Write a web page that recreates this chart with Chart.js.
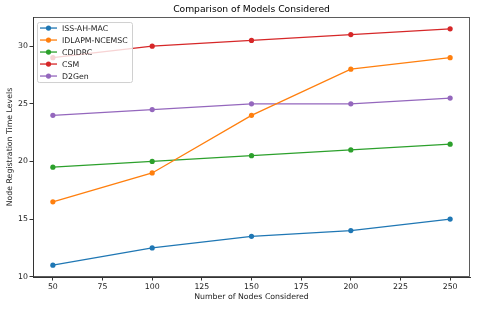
<!DOCTYPE html>
<html>
<head>
<meta charset="utf-8">
<script src="https://cdn.jsdelivr.net/npm/chart.js@4.4.0/dist/chart.umd.min.js"></script>
<style>
  html, body { margin: 0; padding: 0; background: #fff; }
  #wrap { width: 480px; height: 313px; }
</style>
</head>
<body>
<div id="wrap"><canvas id="myChart" width="480" height="313"></canvas></div>
<script>
// data
const nodes = [50, 100, 150, 200, 250];
const issAhMac = [11, 12.5, 13.5, 14, 15];
const idlapmNcemsc = [16.5, 19, 24, 28, 29];
const cdidrc = [19.5, 20, 20.5, 21, 21.5];
const csm = [29, 30, 30.5, 31, 31.5];
const d2gen = [24, 24.5, 25, 25, 25.5];

const seriesNames = ["ISS-AH-MAC", "IDLAPM-NCEMSC", "CDIDRC", "CSM", "D2Gen"];
const seriesValues = [issAhMac, idlapmNcemsc, cdidrc, csm, d2gen];
const colors = ["#1f77b4", "#ff7f0e", "#2ca02c", "#d62728", "#9467bd"];

const xTicks = [50, 75, 100, 125, 150, 175, 200, 225, 250];
const yTicks = [10, 15, 20, 25, 30];

const FONT = "'DejaVu Sans', sans-serif";
const SMALL = 7.8;

const datasets = seriesNames.map((name, i) => ({
    label: name,
    data: nodes.map((n, j) => ({x: n, y: seriesValues[i][j]})),
    borderColor: colors[i],
    backgroundColor: colors[i],
    borderWidth: 1.3,
    pointRadius: 2.6,
    pointHoverRadius: 2.6,
    pointBorderWidth: 0,
    tension: 0
}));

// frame + legend box inside the plot, like matplotlib
const framePlugin = {
    id: "frameLegend",
    afterDatasetsDraw(chart) {
        const ctx = chart.ctx;
        const a = chart.chartArea;
        ctx.save();
        ctx.strokeStyle = "#333";
        ctx.lineWidth = 0.8;
        ctx.strokeRect(a.left + 0.5, a.top + 0.5, a.right - a.left - 1, a.bottom - a.top - 1);

        // legend
        const bx = a.left + 4, by = a.top + 5, bw = 95, bh = 60;
        ctx.beginPath();
        ctx.roundRect(bx + 0.5, by + 0.5, bw, bh, 2);
        ctx.fillStyle = "rgba(255,255,255,0.8)";
        ctx.fill();
        ctx.strokeStyle = "#d0d0d0";
        ctx.lineWidth = 1;
        ctx.stroke();

        ctx.font = SMALL + "px " + FONT;
        ctx.textBaseline = "middle";
        ctx.textAlign = "left";
        seriesNames.forEach((name, i) => {
            const y = by + 6 + i * 12;
            ctx.strokeStyle = colors[i];
            ctx.lineWidth = 1.3;
            ctx.beginPath();
            ctx.moveTo(bx + 3, y);
            ctx.lineTo(bx + 20, y);
            ctx.stroke();
            ctx.fillStyle = colors[i];
            ctx.beginPath();
            ctx.arc(bx + 11.5, y, 2.6, 0, Math.PI * 2);
            ctx.fill();
            ctx.fillStyle = "#222";
            ctx.fillText(name, bx + 25, y + 0.5);
        });
        ctx.restore();
    }
};

new Chart(document.getElementById("myChart"), {
    type: "line",
    data: { datasets: datasets },
    options: {
        responsive: false,
        animation: false,
        devicePixelRatio: 1,
        layout: { padding: { left: 0, right: 10, top: 0, bottom: 0 } },
        plugins: {
            legend: { display: false },
            tooltip: { enabled: false },
            title: {
                display: true,
                fullSize: false,
                text: "Comparison of Models Considered",
                color: "#000",
                font: { family: FONT, size: 9.2, weight: "normal" },
                padding: { top: 3.8, bottom: 2.2 }
            }
        },
        scales: {
            x: {
                type: "linear",
                min: 40,
                max: 260,
                afterBuildTicks: s => { s.ticks = xTicks.map(v => ({value: v})); },
                afterFit: s => { s.height = 36; },
                grid: { drawOnChartArea: false, drawTicks: true, tickLength: 3.5, tickColor: "#333" },
                border: { display: true, color: "#333" },
                ticks: {
                    color: "#222",
                    padding: 1.5,
                    maxRotation: 0,
                    font: { family: FONT, size: SMALL }
                },
                title: {
                    display: true,
                    text: "Number of Nodes Considered",
                    color: "#222",
                    font: { family: FONT, size: SMALL },
                    padding: { top: 0, bottom: 11.3 }
                }
            },
            y: {
                min: 9.975,
                max: 32.525,
                afterBuildTicks: s => { s.ticks = yTicks.map(v => ({value: v})); },
                afterFit: s => { s.width = 33; },
                grid: { drawOnChartArea: false, drawTicks: true, tickLength: 3.5, tickColor: "#333" },
                border: { display: true, color: "#333" },
                ticks: {
                    color: "#222",
                    padding: 1.5,
                    font: { family: FONT, size: SMALL }
                },
                title: {
                    display: true,
                    text: "Node Registration Time Levels",
                    color: "#222",
                    font: { family: FONT, size: SMALL },
                    padding: { top: 5.3, bottom: 0 }
                }
            }
        }
    },
    plugins: [framePlugin]
});
</script>
</body>
</html>
